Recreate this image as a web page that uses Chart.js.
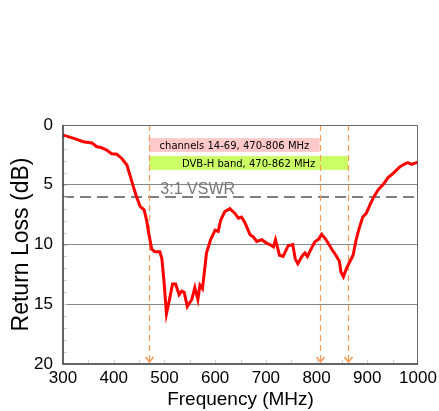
<!DOCTYPE html>
<html>
<head>
<meta charset="utf-8">
<script src="https://cdn.jsdelivr.net/npm/chart.js@4.4.0/dist/chart.umd.min.js"></script>
<style>
  html, body { margin: 0; padding: 0; background: #fff; }
  #wrap { width: 439px; height: 411px; }
</style>
</head>
<body>
<div id="wrap"><canvas id="rlChart" width="439" height="411"></canvas></div>
<script>
        const freqMHz = [300, 320, 340, 357, 366, 376, 386, 396, 406, 416, 426, 432, 439, 445, 452, 460, 465, 468,
            475, 481, 491, 495, 499, 504, 510, 516, 522, 529, 534, 539, 545, 554, 560, 566, 570, 575, 583, 591,
            600, 606, 611, 619, 629, 639, 646, 652, 659, 669, 675, 682, 692, 702, 708, 715, 719, 727, 734, 744,
            753, 758, 763, 771, 777, 782, 790, 797, 803, 810, 817, 823, 830, 838, 845, 848, 853, 859, 866, 872,
            878, 884, 891, 898, 905, 913, 922, 932, 941, 951, 964, 974, 980, 987, 997, 1000];
        const returnLoss = [0.85, 1.1, 1.4, 1.5, 1.8, 1.9, 2.1, 2.4, 2.45, 2.8, 3.35, 4.2, 5.2, 6.0, 6.8, 7.1, 8.0, 8.8,
            10.4, 10.6, 10.6, 11.2, 13.0, 15.8, 14.6, 13.3, 13.3, 14.2, 13.9, 14.0, 15.2, 14.6, 13.6, 14.6, 13.4, 13.7, 10.7, 9.6,
            8.8, 8.9, 7.95, 7.25, 7.0, 7.4, 7.8, 7.7, 8.2, 9.2, 9.35, 9.75, 9.6, 9.9, 10.0, 10.2, 9.6, 10.9, 11.0, 10.1,
            10.0, 11.2, 11.6, 11.0, 10.7, 11.0, 10.3, 9.75, 9.6, 9.15, 9.5, 9.9, 10.4, 10.9, 11.4, 12.3, 12.7, 12.0, 11.4, 10.9,
            9.6, 8.65, 7.7, 7.4, 6.7, 6.0, 5.4, 4.95, 4.4, 4.05, 3.5, 3.25, 3.15, 3.3, 3.15, 3.1];

        // frequency markers and bands
        const markerFreqs = [470, 806, 862];
        const bandLabels = ['channels 14-69, 470-806 MHz', 'DVB-H band, 470-862 MHz'];
        const bandStart = [470, 470];
        const bandEnd = [806, 862];
        const vswrLevel = 6.02;
        const vswrLabel = '3:1 VSWR';

        const xTicks = [300, 400, 500, 600, 700, 800, 900, 1000];
        const yTicks = [0, 5, 10, 15, 20];

        const FONT = "'Liberation Sans', Arial, sans-serif";

        const overlayPlugin = {
            id: 'overlay',
            beforeDatasetsDraw(c) {
                const ctx = c.ctx;
                const xs = c.scales.x, ys = c.scales.y;
                const a = c.chartArea;
                ctx.save();

                // bands
                const bandColors = ['#ffc9c9', '#ccff66'];
                const bandRows = [[1.1, 2.25], [2.6, 3.75]];
                ctx.font = "10px 'DejaVu Sans', sans-serif";
                ctx.textAlign = 'center';
                ctx.textBaseline = 'middle';
                bandLabels.forEach((lbl, i) => {
                    const x0 = xs.getPixelForValue(bandStart[i]);
                    const x1 = xs.getPixelForValue(bandEnd[i]);
                    const y0 = ys.getPixelForValue(bandRows[i][0]);
                    const y1 = ys.getPixelForValue(bandRows[i][1]);
                    ctx.fillStyle = bandColors[i];
                    ctx.fillRect(x0, y0, x1 - x0, y1 - y0);
                    ctx.fillStyle = '#000';
                    ctx.fillText(lbl, (x0 + x1) / 2, (y0 + y1) / 2 + 1);
                });

                // VSWR line
                const yv = ys.getPixelForValue(vswrLevel);
                ctx.strokeStyle = '#555';
                ctx.lineWidth = 1.5;
                ctx.setLineDash([11, 6]);
                ctx.beginPath();
                ctx.moveTo(a.left, yv);
                ctx.lineTo(a.right, yv);
                ctx.stroke();
                ctx.setLineDash([]);
                ctx.fillStyle = '#777';
                ctx.font = '16px ' + FONT;
                ctx.textAlign = 'left';
                ctx.textBaseline = 'alphabetic';
                ctx.fillText(vswrLabel, xs.getPixelForValue(492), yv - 3);

                // marker lines with arrows
                ctx.strokeStyle = '#f79a55';
                ctx.lineWidth = 1.2;
                markerFreqs.forEach(f => {
                    const x = Math.round(xs.getPixelForValue(f)) + 0.5;
                    ctx.setLineDash([6, 4]);
                    ctx.beginPath();
                    ctx.moveTo(x, a.top);
                    ctx.lineTo(x, a.bottom - 2);
                    ctx.stroke();
                    ctx.setLineDash([]);
                    ctx.lineWidth = 1.6;
                    ctx.beginPath();
                    ctx.moveTo(x - 4, a.bottom - 7);
                    ctx.lineTo(x, a.bottom - 2);
                    ctx.lineTo(x + 4, a.bottom - 7);
                    ctx.stroke();
                    ctx.lineWidth = 1.2;
                });
                ctx.restore();
            },
            afterDraw(c) {
                const ctx = c.ctx;
                const xs = c.scales.x, ys = c.scales.y;
                const a = c.chartArea;
                ctx.save();
                // minor inside ticks
                ctx.strokeStyle = '#d0d0d0';
                ctx.lineWidth = 1;
                for (let v = 1; v < 20; v++) {
                    const y = Math.round(ys.getPixelForValue(v)) + 0.5;
                    ctx.beginPath();
                    ctx.moveTo(a.left, y);
                    ctx.lineTo(a.left + 4, y);
                    ctx.stroke();
                }
                for (let v = 350; v < 1000; v += 50) {
                    const x = Math.round(xs.getPixelForValue(v)) + 0.5;
                    ctx.beginPath();
                    ctx.moveTo(x, a.bottom);
                    ctx.lineTo(x, a.bottom - 4);
                    ctx.stroke();
                }
                // frame
                ctx.strokeStyle = '#666';
                ctx.lineWidth = 1;
                ctx.beginPath();
                ctx.moveTo(a.left, a.top + 0.5);
                ctx.lineTo(a.right - 0.5, a.top + 0.5);
                ctx.lineTo(a.right - 0.5, a.bottom);
                ctx.stroke();
                ctx.strokeStyle = '#333';
                ctx.lineWidth = 1.5;
                ctx.beginPath();
                ctx.moveTo(a.left, a.top);
                ctx.lineTo(a.left, a.bottom);
                ctx.lineTo(a.right, a.bottom);
                ctx.stroke();
                ctx.restore();
            }
        };

        const chart = new Chart(document.getElementById('rlChart'), {
            type: 'line',
            data: {
                datasets: [{
                    label: 'Return Loss',
                    data: freqMHz.map((f, i) => ({ x: f, y: returnLoss[i] })),
                    borderColor: '#ff0000',
                    borderWidth: 3,
                    pointRadius: 0,
                    tension: 0,
                    fill: false
                }]
            },
            options: {
                responsive: false,
                devicePixelRatio: 1,
                animation: false,
                layout: { padding: { top: 125, left: 0, right: 21, bottom: 0 } },
                plugins: {
                    legend: { display: false },
                    tooltip: { enabled: false }
                },
                scales: {
                    x: {
                        type: 'linear',
                        min: 300,
                        max: 1000,
                        afterBuildTicks: s => { s.ticks = xTicks.map(v => ({ value: v })); },
                        afterFit: s => { s.height = 47; s.paddingLeft = 0; s.paddingRight = 0; },
                        ticks: { color: '#000', font: { family: FONT, size: 17 }, padding: 4, maxRotation: 0, callback: v => String(v) },
                        grid: { display: false, drawTicks: false },
                        border: { display: false },
                        title: { display: true, text: 'Frequency (MHz)', color: '#000', font: { family: FONT, size: 19 }, padding: { top: 0, bottom: 0 } }
                    },
                    y: {
                        type: 'linear',
                        reverse: true,
                        min: 0,
                        max: 20,
                        afterBuildTicks: s => { s.ticks = yTicks.map(v => ({ value: v })); },
                        afterFit: s => { s.width = 63; s.paddingTop = 0; s.paddingBottom = 0; },
                        ticks: { color: '#000', font: { family: FONT, size: 17 }, padding: 10, callback: v => String(v) },
                        grid: {
                            drawTicks: false,
                            color: ctx => (ctx.tick && ctx.tick.value > 0 && ctx.tick.value < 20) ? '#888' : 'rgba(0,0,0,0)',
                            lineWidth: 1
                        },
                        border: { display: false },
                        title: { display: true, text: 'Return Loss (dB)', color: '#000', font: { family: FONT, size: 23 }, padding: { top: 8, bottom: 0 } }
                    }
                }
            },
            plugins: [overlayPlugin]
        });
</script>
</body>
</html>
